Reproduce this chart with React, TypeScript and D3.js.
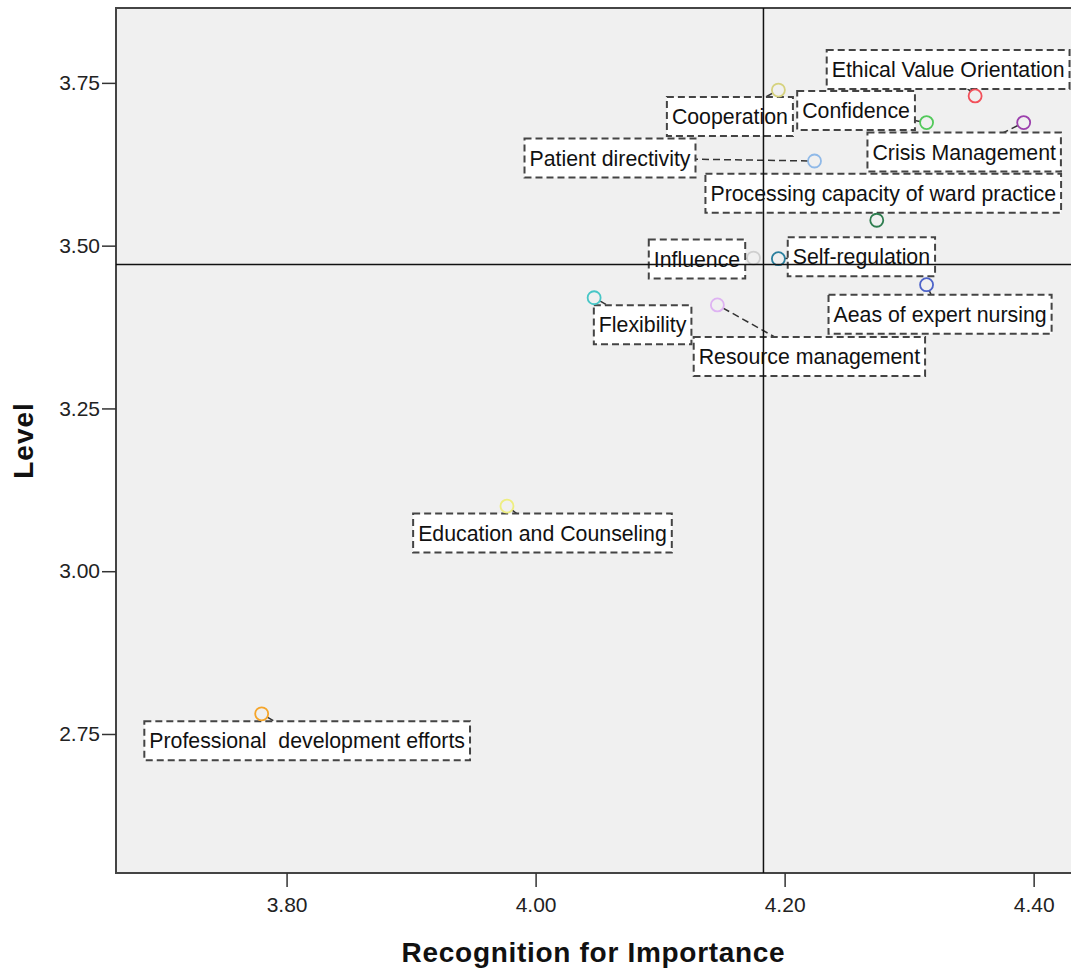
import { useEffect, useRef } from 'react';
import * as d3 from 'd3';

// competency names, in drawing order
const names = [
  'Ethical Value Orientation',
  'Cooperation',
  'Confidence',
  'Crisis Management',
  'Patient directivity',
  'Processing capacity of ward practice',
  'Influence',
  'Self-regulation',
  'Aeas of expert nursing',
  'Flexibility',
  'Resource management',
  'Education and Counseling',
  'Professional  development efforts',
];

// x: Recognition for Importance, y: Level
const importance = [4.353, 4.195, 4.314, 4.392, 4.224, 4.274, 4.175, 4.195, 4.314, 4.047, 4.146, 3.977, 3.78];
const level = [3.73, 3.739, 3.689, 3.689, 3.63, 3.539, 3.481, 3.48, 3.44, 3.42, 3.409, 3.1, 2.781];

const markerColors = [
  '#f2505a', '#d6d27e', '#52c95a', '#9c40ad', '#8fb9e8', '#2e7d4f', '#cfcfcf',
  '#2a7f9e', '#4d63c9', '#47c6c6', '#deb3f2', '#eeee80', '#f5a52a',
];

// label box centre, relative to its point (px)
const labelOffsets: [number, number][] = [
  [-27, -26.5], [-48.5, 26.5], [-70.5, -12], [-59.5, 29.5], [-204.5, -3], [6.5, -27],
  [-56.5, 1], [83, -2], [13.5, 29.5], [48.5, 27], [92, 51.5], [35.5, 27], [45.5, 27],
];

const xTicks = [3.8, 4.0, 4.2, 4.4];
const yTicks = [2.75, 3.0, 3.25, 3.5, 3.75];
const xRef = 4.183;
const yRef = 3.471;

const App = () => {
  const ref = useRef<SVGSVGElement>(null);

  useEffect(() => {
    document.body.style.margin = '0';
    const width = 1071;
    const height = 968;
    const plot = { left: 116, top: 8, right: 1073, bottom: 873 };
    const font = 'Liberation Sans, Arial, sans-serif';
    const r = 6.5;

    const svg = d3.select(ref.current);
    svg.selectAll('*').remove();
    svg.attr('width', width).attr('height', height);

    const x = d3.scaleLinear().domain([3.663, 4.43]).range([116, 1071]);
    const y = d3.scaleLinear().domain([2.5365, 3.865]).range([873, 8]);

    svg
      .append('rect')
      .attr('x', plot.left)
      .attr('y', plot.top)
      .attr('width', plot.right - plot.left)
      .attr('height', plot.bottom - plot.top)
      .attr('fill', '#f0f0f0')
      .attr('stroke', '#444')
      .attr('stroke-width', 2);

    // axes
    const xAxis = svg
      .append('g')
      .attr('transform', `translate(0,${plot.bottom})`)
      .call(d3.axisBottom(x).tickValues(xTicks).tickFormat(d3.format('.2f')).tickSize(14).tickPadding(10));
    xAxis.select('.domain').remove();
    xAxis.selectAll('line').attr('stroke', '#333').attr('stroke-width', 1.5);
    xAxis.selectAll('text').attr('font-family', font).attr('font-size', 21).attr('fill', '#222');

    const yAxis = svg
      .append('g')
      .attr('transform', `translate(${plot.left},0)`)
      .call(d3.axisLeft(y).tickValues(yTicks).tickFormat(d3.format('.2f')).tickSize(14).tickPadding(2));
    yAxis.select('.domain').remove();
    yAxis.selectAll('line').attr('stroke', '#333').attr('stroke-width', 1.5);
    yAxis.selectAll('text').attr('font-family', font).attr('font-size', 21).attr('fill', '#222');

    svg
      .append('text')
      .attr('x', (plot.left + 1071) / 2)
      .attr('y', 962)
      .attr('text-anchor', 'middle')
      .attr('font-family', font)
      .attr('font-weight', 'bold')
      .attr('font-size', 28)
      .attr('letter-spacing', 0.7)
      .attr('fill', '#111')
      .text('Recognition for Importance');

    svg
      .append('text')
      .attr('transform', `translate(33,${(plot.top + plot.bottom) / 2}) rotate(-90)`)
      .attr('text-anchor', 'middle')
      .attr('font-family', font)
      .attr('font-weight', 'bold')
      .attr('font-size', 28)
      .attr('letter-spacing', 1)
      .attr('fill', '#111')
      .text('Level');

    const pts = names.map((n, i) => ({
      name: n,
      px: x(importance[i]),
      py: y(level[i]),
      cx: x(importance[i]) + labelOffsets[i][0],
      cy: y(level[i]) + labelOffsets[i][1],
      color: markerColors[i],
    }));

    // leader lines, starting at the marker's edge
    svg
      .append('g')
      .selectAll('line')
      .data(pts)
      .join('line')
      .each(function (d) {
        const dx = d.cx - d.px;
        const dy = d.cy - d.py;
        const len = Math.hypot(dx, dy) || 1;
        d3.select(this)
          .attr('x1', d.px + (dx / len) * r)
          .attr('y1', d.py + (dy / len) * r)
          .attr('x2', d.cx)
          .attr('y2', d.cy);
      })
      .attr('stroke', '#333')
      .attr('stroke-width', 1.5)
      .attr('stroke-dasharray', '7,4');

    // label boxes
    const lab = svg.append('g').selectAll('g').data(pts).join('g');
    const rects = lab.append('rect');
    const texts = lab
      .append('text')
      .attr('x', (d) => d.cx)
      .attr('y', (d) => d.cy + 7.5)
      .attr('text-anchor', 'middle')
      .attr('font-family', font)
      .attr('font-size', 21.3)
      .attr('fill', '#111')
      .style('white-space', 'pre')
      .text((d) => d.name);
    texts.each(function (d: any) {
      d.w = (this as SVGTextElement).getComputedTextLength();
    });
    rects
      .attr('x', (d: any) => d.cx - d.w / 2 - 5)
      .attr('y', (d) => d.cy - 19.5)
      .attr('width', (d: any) => d.w + 10)
      .attr('height', 39)
      .attr('fill', '#fff')
      .attr('stroke', '#444')
      .attr('stroke-width', 2)
      .attr('stroke-dasharray', '7,4');

    // markers
    svg
      .append('g')
      .selectAll('circle')
      .data(pts)
      .join('circle')
      .attr('cx', (d) => d.px)
      .attr('cy', (d) => d.py)
      .attr('r', r)
      .attr('fill', 'none')
      .attr('stroke', (d) => d.color)
      .attr('stroke-width', 1.8);

    // reference lines
    svg
      .append('line')
      .attr('x1', x(xRef))
      .attr('x2', x(xRef))
      .attr('y1', plot.top)
      .attr('y2', plot.bottom)
      .attr('stroke', '#111')
      .attr('stroke-width', 1.5);
    svg
      .append('line')
      .attr('x1', plot.left)
      .attr('x2', plot.right)
      .attr('y1', y(yRef))
      .attr('y2', y(yRef))
      .attr('stroke', '#111')
      .attr('stroke-width', 1.5);
  }, []);

  return <svg ref={ref} style={{ display: 'block' }} />;
};

export default App;
